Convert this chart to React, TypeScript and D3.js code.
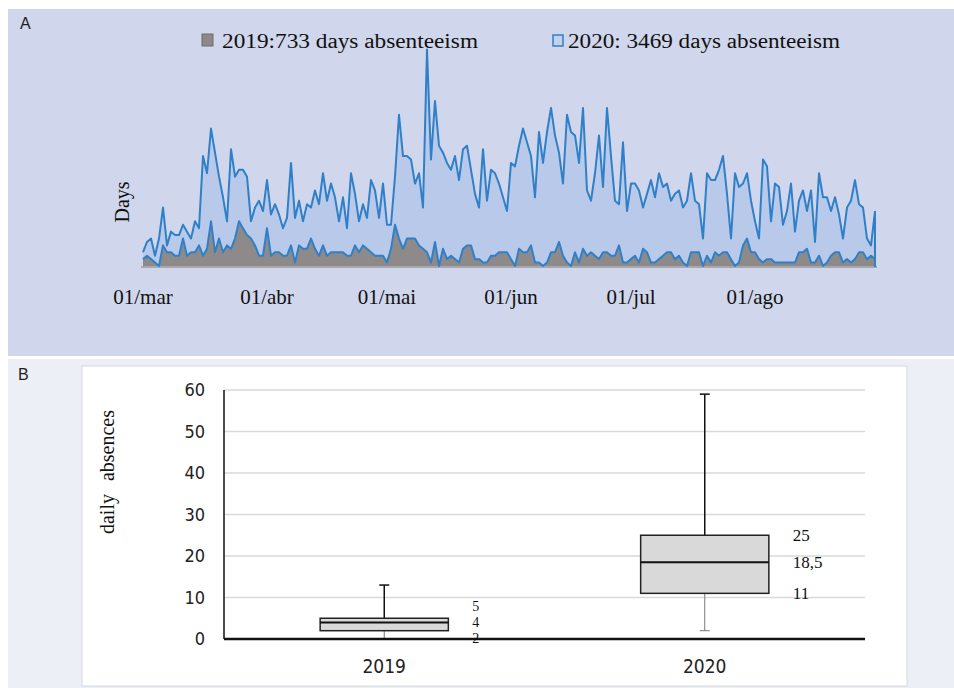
import * as d3 from "d3";

// daily absenteeism, 01/mar to 31/aug (stacked: 2019 at the bottom, 2020 above)
const startDate = new Date(Date.UTC(2020, 2, 1));
const days2019 = [
  2, 3, 2, 1, 0, 6, 4, 4, 3, 3, 8, 3, 4, 4, 6, 3, 5, 13, 4, 8, 4, 6, 5, 8, 13, 11,
  9, 8, 6, 3, 3, 11, 3, 4, 4, 3, 3, 6, 1, 6, 5, 5, 8, 5, 3, 6, 3, 4, 4, 4, 4, 3,
  3, 6, 4, 6, 5, 4, 3, 3, 3, 1, 5, 12, 8, 5, 8, 8, 8, 6, 5, 4, 1, 7, 0, 5, 2, 3,
  2, 1, 5, 6, 6, 2, 2, 1, 1, 3, 3, 4, 4, 4, 2, 0, 5, 4, 4, 6, 1, 1, 0, 1, 4, 4,
  7, 3, 1, 0, 4, 1, 5, 3, 4, 3, 2, 4, 4, 3, 3, 6, 1, 1, 2, 3, 1, 5, 4, 1, 1, 2,
  3, 4, 4, 2, 3, 1, 0, 4, 4, 4, 0, 3, 1, 4, 3, 4, 4, 2, 0, 1, 6, 8, 4, 4, 2, 1,
  2, 2, 1, 1, 1, 1, 1, 1, 4, 4, 5, 1, 1, 3, 0, 1, 3, 4, 4, 1, 2, 1, 2, 4, 4, 2, 3, 2,
];
const days2020 = [
  2, 4, 6, 2, 8, 11, 2, 6, 6, 6, 4, 7, 4, 9, 5, 29, 22, 27, 29, 18, 16, 7, 29, 18, 15, 17,
  17, 5, 11, 16, 13, 14, 12, 14, 11, 8, 11, 24, 13, 13, 8, 13, 9, 17, 15, 21, 16, 20, 16, 9, 16, 8,
  24, 15, 9, 12, 9, 21, 19, 11, 21, 11, 7, 14, 36, 27, 24, 23, 16, 21, 12, 59, 30, 41, 35, 28, 28, 25,
  30, 24, 29, 29, 22, 19, 15, 33, 18, 25, 24, 20, 16, 12, 28, 29, 30, 36, 32, 26, 19, 38, 30, 38, 42, 34,
  26, 21, 43, 39, 34, 29, 41, 19, 15, 24, 36, 19, 42, 29, 16, 12, 35, 15, 22, 21, 21, 12, 17, 24, 19, 25,
  20, 20, 15, 19, 19, 16, 19, 23, 15, 14, 8, 24, 24, 21, 25, 28, 17, 6, 27, 22, 18, 19, 15, 9, 6, 30,
  27, 11, 23, 22, 11, 15, 23, 9, 15, 18, 11, 21, 6, 24, 20, 19, 13, 16, 11, 7, 15, 18, 23, 14, 13, 6, 3, 14,
];
const monthLabels = ["01/mar", "01/abr", "01/mai", "01/jun", "01/jul", "01/ago"];
const legendLabels = ["2019:733 days absenteeism", "2020: 3469 days absenteeism"];

// box plot summary
const boxYears = ["2019", "2020"];
const boxMin = [0, 2];
const boxQ1 = [2, 11];
const boxMedian = [4, 18.5];
const boxQ3 = [5, 25];
const boxMax = [13, 59];
const boxLabels = [
  ["5", "4", "2"],
  ["25", "18,5", "11"],
];
const yTicks = [0, 10, 20, 30, 40, 50, 60];

const serif = "'Liberation Serif', 'Times New Roman', serif";
const narrow = "'Liberation Sans Narrow', 'DejaVu Sans Condensed', 'Arial Narrow', sans-serif";
const sans = "'Liberation Sans', Arial, sans-serif";

function AreaPanel() {
  const dates = days2019.map((_, i) => d3.utcDay.offset(startDate, i));
  const rows = dates.map((d, i) => ({ date: d, y2019: days2019[i], y2020: days2020[i] }));
  const series = d3.stack<any>().keys(["y2019", "y2020"])(rows);

  const x = d3.scaleUtc().domain([dates[0], dates[dates.length - 1]]).range([143, 875]);
  const y = d3.scaleLinear().domain([0, 62]).range([266, 53]);

  const area = d3
    .area<any>()
    .x((d) => x(d.data.date))
    .y0((d) => y(d[0]))
    .y1((d) => y(d[1]));
  const line = d3
    .line<any>()
    .x((d) => x(d.data.date))
    .y((d) => y(d[1]));

  const months = d3.utcMonth.range(dates[0], dates[dates.length - 1]);

  return (
    <g>
      <rect x={8} y={9} width={946} height={347} fill="#d0d6eb" />
      <text x={20} y={29} fontFamily={sans} fontSize={16} fill="#222">A</text>

      {/* legend */}
      <rect x={202} y={34} width={11} height={12} fill="#8d8989" stroke="#6f6b6b" />
      <text x={222} y={48} fontFamily={serif} fontSize={20} textLength={256} lengthAdjust="spacingAndGlyphs" fill="#111">
        {legendLabels[0]}
      </text>
      <rect x={553} y={35} width={10} height={11} fill="#c3d1ec" stroke="#2f80c8" strokeWidth={1.5} />
      <text x={568} y={48} fontFamily={serif} fontSize={20} textLength={272} lengthAdjust="spacingAndGlyphs" fill="#111">
        {legendLabels[1]}
      </text>

      <path d={area(series[1]) ?? ""} fill="#b8c9e9" />
      <path d={area(series[0]) ?? ""} fill="#8f8a8a" />
      <line x1={141} x2={877} y1={267} y2={267} stroke="#a8a8b0" strokeWidth={2} />
      <path d={line(series[0]) ?? ""} fill="none" stroke="#2f80c8" strokeWidth={2} strokeLinejoin="round" />
      <path d={line(series[1]) ?? ""} fill="none" stroke="#2f80c8" strokeWidth={2} strokeLinejoin="round" />
      <line x1={875} x2={875} y1={y(days2019[183] + days2020[183])} y2={267} stroke="#2f80c8" strokeWidth={2} />

      <text transform="translate(129,202) rotate(-90)" textAnchor="middle" fontFamily={serif} fontSize={20} fill="#111">
        Days
      </text>
      {months.map((m, i) => (
        <text key={i} x={x(m)} y={304} textAnchor="middle" fontFamily={serif} fontSize={21} fill="#111">
          {monthLabels[i]}
        </text>
      ))}
    </g>
  );
}

function BoxPanel() {
  const x = d3.scaleBand().domain(boxYears).range([224, 865]);
  const y = d3.scaleLinear().domain([0, 60]).range([639, 390]);
  const bw = x.bandwidth() * 0.4;

  return (
    <g>
      <rect x={8} y={359} width={946} height={329} fill="#eceff6" />
      <text x={18} y={380} fontFamily={sans} fontSize={16} fill="#222">B</text>
      <rect x={82} y={366} width={825} height={320} fill="#ffffff" stroke="#d6d8de" />

      {yTicks.map((t) => (
        <g key={t}>
          {t > 0 && <line x1={224} x2={865} y1={y(t)} y2={y(t)} stroke="#d9d9d9" strokeWidth={1.5} />}
          <text x={205} y={y(t) + 6} textAnchor="end" fontFamily={narrow} fontSize={18} fill="#222">
            {t}
          </text>
        </g>
      ))}
      <line x1={224} x2={224} y1={y(60)} y2={y(0)} stroke="#111" strokeWidth={1.5} />

      {boxYears.map((yr, i) => {
        const cx = (x(yr) ?? 0) + x.bandwidth() / 2;
        const left = cx - bw / 2;
        const right = cx + bw / 2;
        // spread the value labels when they would overlap
        const vals = [boxQ3[i], boxMedian[i], boxQ1[i]];
        let pos = vals.map((v) => y(v));
        const gap = 16;
        const small = pos[1] - pos[0] < gap || pos[2] - pos[1] < gap;
        if (small) {
          pos = [pos[1] - gap, pos[1], pos[1] + gap];
        }
        return (
          <g key={yr}>
            <line x1={cx} x2={cx} y1={y(boxQ3[i])} y2={y(boxMax[i])} stroke="#111" strokeWidth={1.5} />
            <line x1={cx - 5} x2={cx + 5} y1={y(boxMax[i])} y2={y(boxMax[i])} stroke="#111" strokeWidth={1.5} />
            <line x1={cx} x2={cx} y1={y(boxQ1[i])} y2={y(boxMin[i])} stroke="#777" strokeWidth={1} />
            <line x1={cx - 5} x2={cx + 5} y1={y(boxMin[i])} y2={y(boxMin[i])} stroke="#777" strokeWidth={1} />
            <rect
              x={left}
              y={y(boxQ3[i])}
              width={bw}
              height={y(boxQ1[i]) - y(boxQ3[i])}
              fill="#d9d9d9"
              stroke="#222"
              strokeWidth={1.5}
            />
            <line x1={left} x2={right} y1={y(boxMedian[i])} y2={y(boxMedian[i])} stroke="#111" strokeWidth={2} />
            {boxLabels[i].map((lab, j) => (
              <text
                key={j}
                x={right + 24}
                y={pos[j] + (small ? 5 : 6)}
                fontFamily={serif}
                fontSize={small ? 14 : 17}
                fill="#111"
              >
                {lab}
              </text>
            ))}
            <text x={cx} y={673} textAnchor="middle" fontFamily={narrow} fontSize={19} fill="#222">
              {yr}
            </text>
          </g>
        );
      })}

      <line x1={224} x2={865} y1={y(0)} y2={y(0)} stroke="#111" strokeWidth={2.5} />

      <text
        transform="translate(114,472) rotate(-90)"
        textAnchor="middle"
        fontFamily={serif}
        fontSize={20}
        wordSpacing={8}
        fill="#111"
      >
        daily absences
      </text>
    </g>
  );
}

export default function App() {
  return (
    <svg
      width={954}
      height={688}
      style={{ position: "absolute", left: 0, top: 0, display: "block", background: "#ffffff" }}
    >
      <AreaPanel />
      <BoxPanel />
    </svg>
  );
}
